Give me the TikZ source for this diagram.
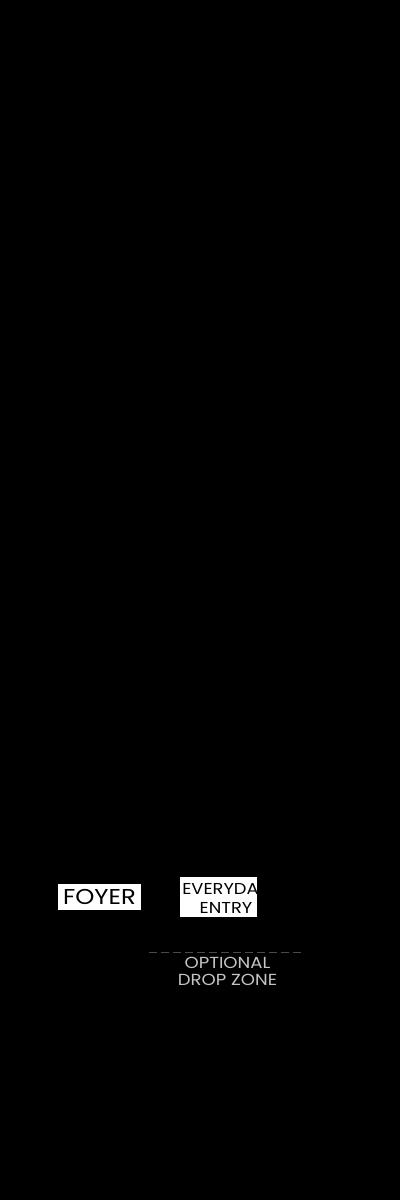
\documentclass[tikz,border=0pt]{standalone}
\usepackage{fontspec}
\setmainfont{Poppins}[FakeStretch=1.13]
\usetikzlibrary{positioning}
\definecolor{zonegray}{HTML}{C4C4C4}
\definecolor{dashgray}{HTML}{4A4A4A}
\tikzset{
    tag/.style = {
        fill=white, rectangle, align=center,
        outer sep=0,
        inner sep=0,
        text=black
    },
    word/.style = {
        rectangle,
        outer sep=0,
        inner sep=0,
        text=black,
        font=\fontsize{15.8}{17}\selectfont
    },
    zone/.style = {
        rectangle, align=center,
        outer sep=0,
        inner sep=0,
        text=zonegray,
        font=\fontsize{16}{17}\selectfont
    },
    split/.style = {
        draw=dashgray, line width=1pt, dash pattern=on 8pt off 4pt
    }
}

\begin{document}
\begin{tikzpicture}[x=1pt,y=-1pt]

% 1. black page
\fill[black] (0,0) rectangle (400,1200);
\useasboundingbox (0,0) rectangle (400,1200);

% 2. labels
\node[tag,minimum width=83pt,minimum height=26pt,
      font=\fontsize{21.5}{23}\selectfont] (foyer) at (99.5,896.5) {FOYER};
\node[tag,minimum width=77pt,minimum height=40pt] (entry) at (218.5,897) {};

% 3. clipped text of the entry box
\begin{scope}
  \clip (entry.north west) rectangle (entry.south east);
  \node[word,anchor=base west] (every) at (182.3,894.5) {EVERYDAY};
  \node[word,anchor=base east] (entrytxt) at (252.3,913.5) {ENTRY};
\end{scope}

% 4. drop zone
\coordinate (zl) at (149,952);
\coordinate (zr) at (305,952);
\draw[split] (zl) -- (zr);
\node[zone] (drop) at (227.5,971) {OPTIONAL\\ DROP ZONE};

\end{tikzpicture}
\end{document}
